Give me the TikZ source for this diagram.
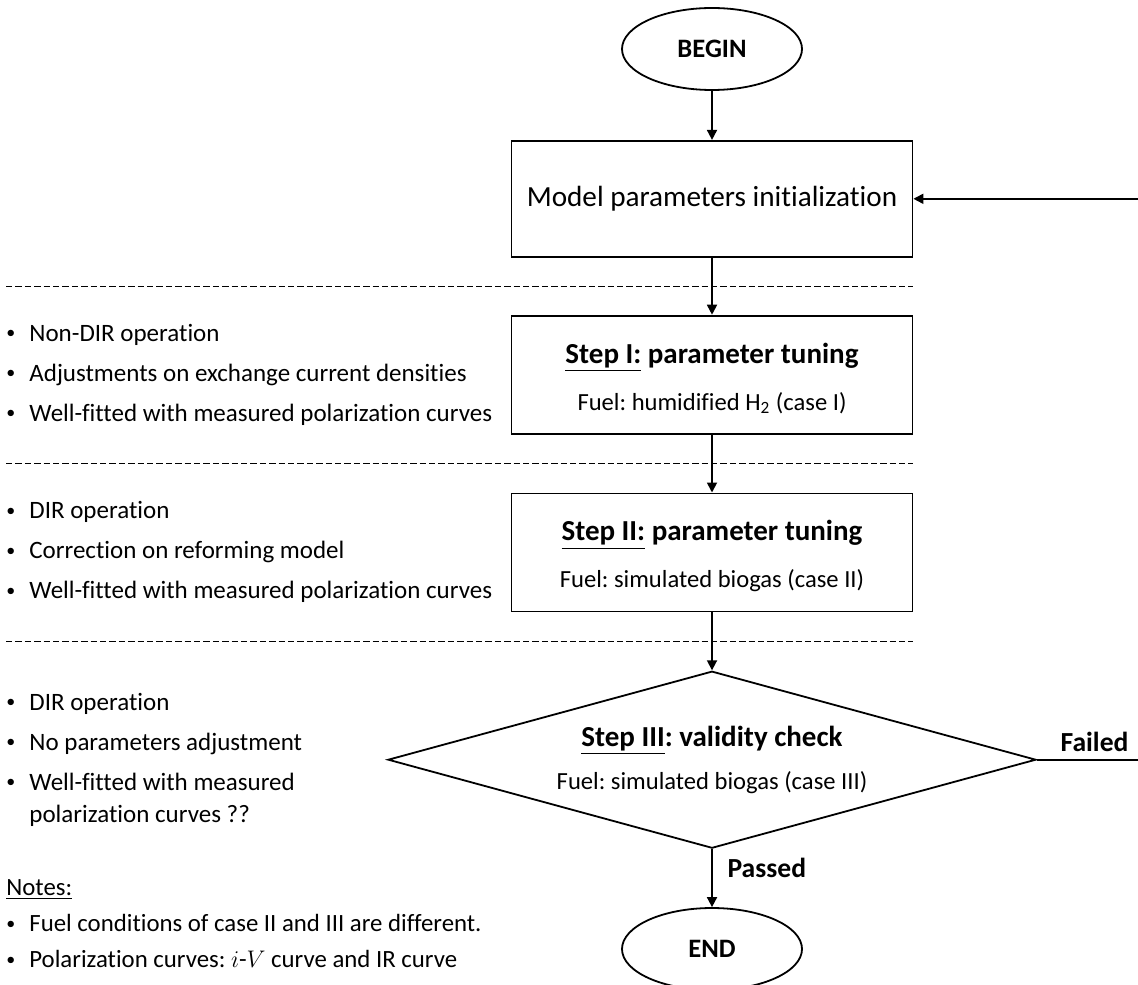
\documentclass[tikz,border=0pt]{standalone}
\usepackage{fontspec}
\setmainfont[Ligatures=NoCommon]{Carlito}
\usetikzlibrary{shapes.geometric, arrows.meta, positioning, calc}

\frenchspacing
\newcommand{\bul}{\makebox[11.5pt][l]{\fontsize{9}{9}\selectfont\raisebox{1.3pt}{\textbullet}}}
\newcommand{\titlefont}{\fontsize{14.5}{16}\selectfont\bfseries}

\begin{document}
\begin{tikzpicture}[
    node distance=29pt,
    startstop/.style={
        ellipse,
        draw,
        line width=0.9pt,
        minimum width=90pt,
        minimum height=41pt,
        font=\fontsize{13.3}{15}\selectfont\bfseries
    },
    stepbox/.style={
        rectangle,
        draw,
        line width=0.9pt,
        minimum width=200.5pt,
        minimum height=59pt,
        align=center,
        font=\fontsize{12.3}{15}\selectfont
    },
    decision/.style={
        diamond,
        aspect=3.66,
        draw,
        line width=0.9pt,
        minimum width=324pt,
        minimum height=88.5pt,
        inner sep=1pt,
        align=center,
        font=\fontsize{12.3}{15}\selectfont
    },
    notes/.style={
        anchor=west,
        inner sep=0pt,
        align=left,
        font=\fontsize{12.5}{16}\selectfont
    },
    arrow/.style={-{Triangle[length=5pt,width=5pt]}, line width=0.9pt},
    plain/.style={line width=0.9pt},
    sep/.style={dash pattern=on 3.2pt off 1.5pt, line width=0.5pt},
    branch/.style={font=\fontsize{13.8}{15}\selectfont\bfseries}
]
\useasboundingbox (0,0) rectangle (569pt,-492pt);

\node[startstop] (begin) at (356pt,-24.5pt) {BEGIN};
\node[stepbox, minimum height=58pt, font=\fontsize{14.6}{16}\selectfont, below=24.5pt of begin] (init) {Model parameters initialization};
\node[stepbox, below=28.5pt of init] (s1) {{\titlefont\rule{0pt}{14pt}\underline{Step I:} parameter tuning}\\[8.5pt] Fuel: humidified H\textsubscript{2} (case I)};
\node[stepbox, below=of s1] (s2) {{\titlefont\rule{0pt}{14pt}\underline{Step II:} parameter tuning}\\[8.5pt] Fuel: simulated biogas (case II)};
\node[decision, below=of s2] (s3) {{\titlefont \underline{Step III}: validity check}\\[6.5pt] Fuel: simulated biogas (case III)};
\node[startstop, below=of s3] (end) {END};

% page edges
\coordinate (lft) at (3pt,0);
\coordinate (redge) at (569pt,0);
\coordinate (c1) at ($(init.south)!0.5!(s1.north)$);
\coordinate (c2) at ($(s1.south)!0.5!(s2.north)$);
\coordinate (c3) at ($(s2.south)!0.5!(s3.north)$);

\draw[sep] (lft |- c1) -- (s1.east |- c1);
\draw[sep] (lft |- c2) -- (s1.east |- c2);
\draw[sep] (lft |- c3) -- (s1.east |- c3);

\node[notes] (b1) at (lft |- s1) {\bul Non-DIR operation\\[4pt] \bul Adjustments on exchange current densities\\[4pt] \bul Well-fitted with measured polarization curves};
\node[notes] (b2) at (lft |- s2) {\bul DIR operation\\[4pt] \bul Correction on reforming model\\[4pt] \bul Well-fitted with measured polarization curves};
\node[notes] (b3) at (lft |- s3) {\bul DIR operation\\[4pt] \bul No parameters adjustment\\[4pt] \bul Well-fitted with measured\\ \hspace*{11.5pt}polarization curves ??};
\node[notes, font=\fontsize{12.4}{18}\selectfont] (remarks) at (3pt,-462pt) {\underline{Notes:}\\ \bul Fuel conditions of case II and III are different.\\ \bul Polarization curves: $i$-$V$ curve and IR curve};

\draw[arrow] (begin) -- (init);
\draw[arrow] (init) -- (s1);
\draw[arrow] (s1) -- (s2);
\draw[arrow] (s2) -- (s3);
\draw[arrow] (s3) -- node[branch, right=4pt, pos=0.33] {Passed} (end);
\draw[plain] (s3.east) -- node[branch, above, pos=0.57] {Failed} (redge |- s3.east);
\draw[arrow] (redge |- init.east) -- (init.east);

\end{tikzpicture}
\end{document}
